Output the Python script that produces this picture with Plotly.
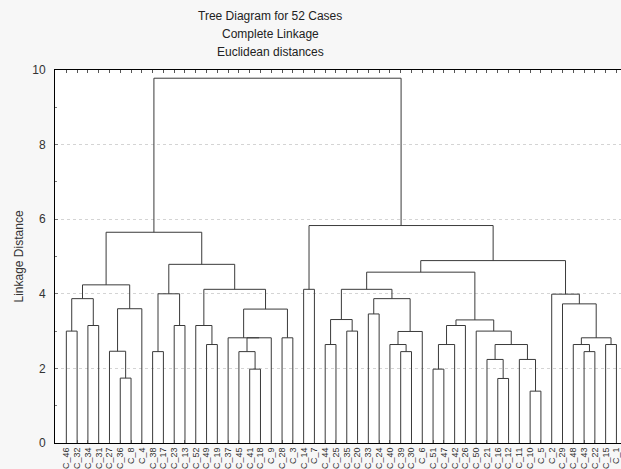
import plotly.graph_objects as go

# ---- data ----
leaf_labels = ["C_46", "C_32", "C_34", "C_31", "C_27", "C_36", "C_8", "C_4", "C_38", "C_17",
               "C_23", "C_13", "C_52", "C_49", "C_19", "C_37", "C_45", "C_41", "C_18", "C_9",
               "C_28", "C_3", "C_14", "C_7", "C_44", "C_25", "C_35", "C_20", "C_33", "C_24",
               "C_40", "C_39", "C_30", "C_6", "C_51", "C_47", "C_42", "C_26", "C_50", "C_21",
               "C_16", "C_12", "C_11", "C_10", "C_5", "C_2", "C_29", "C_48", "C_43", "C_22",
               "C_15", "C_1"]

# merges: node Nk (k = 1..51) joins merge_left[k-1] and merge_right[k-1] at merge_height[k-1]
merge_left = ["C_46", "C_34", "N1", "C_36", "C_27", "N5", "N3", "C_38", "C_23", "N8",
              "C_49", "C_52", "C_41", "C_45", "N14", "C_37", "C_28", "N16", "N12", "N10",
              "N7", "C_14", "C_44", "C_35", "N23", "C_33", "C_39", "C_40", "N28", "N26",
              "N25", "C_51", "N32", "N33", "C_16", "C_21", "C_10", "C_11", "N36", "C_50",
              "N34", "N31", "C_43", "C_48", "C_15", "N44", "C_29", "C_2", "N42", "N22", "N21"]
merge_right = ["C_32", "C_31", "N2", "C_8", "N4", "C_4", "N6", "C_17", "C_13", "N9",
               "C_19", "N11", "C_18", "N13", "C_9", "N15", "C_3", "N17", "N18", "N19",
               "N20", "C_7", "C_25", "C_20", "N24", "C_24", "C_30", "N27", "C_6", "N29",
               "N30", "C_47", "C_42", "C_26", "C_12", "N35", "C_5", "N37", "N38", "N39",
               "N40", "N41", "C_22", "N43", "C_1", "N45", "N46", "N47", "N48", "N49", "N50"]
merge_height = [3.00, 3.15, 3.87, 1.74, 2.46, 3.60, 4.24, 2.45, 3.15, 4.00,
                2.64, 3.15, 1.98, 2.45, 2.82, 2.82, 2.82, 3.59, 4.12, 4.79,
                5.65, 4.12, 2.64, 3.00, 3.31, 3.46, 2.45, 2.64, 2.99, 3.87,
                4.12, 1.98, 2.64, 3.15, 1.73, 2.24, 1.39, 2.24, 2.64, 3.00,
                3.30, 4.58, 2.45, 2.64, 2.64, 2.82, 3.73, 3.99, 4.89, 5.83, 9.78]

y_ticks = [0, 2, 4, 6, 8, 10]
title_lines = ["Tree Diagram for 52 Cases", "Complete Linkage", "Euclidean distances"]
y_title = "Linkage Distance"

# ---- build dendrogram segments ----
pos = {lab: i + 1 for i, lab in enumerate(leaf_labels)}
hgt = {lab: 0.0 for lab in leaf_labels}
xs, ys = [], []
for k, (a, b, h) in enumerate(zip(merge_left, merge_right, merge_height), start=1):
    xa, xb = pos[a], pos[b]
    xs += [xa, xa, xb, xb, None]
    ys += [hgt[a], h, h, hgt[b], None]
    name = f"N{k}"
    pos[name] = (xa + xb) / 2
    hgt[name] = h

fig = go.Figure()
fig.add_trace(go.Scatter(x=xs, y=ys, mode="lines",
                         line=dict(color="#3a3a3a", width=1),
                         hoverinfo="skip", showlegend=False))

W, H = 627, 469   # plot area runs past the 621px window edge, as in the reference
ml, mr, mt, mb = 55, 0, 70, 26
pw = W - ml - mr
ph = H - mt - mb

fig.update_layout(
    width=W, height=H,
    margin=dict(l=ml, r=mr, t=mt, b=mb, pad=0),
    paper_bgcolor="#f7f7f7",
    plot_bgcolor="#ffffff",
    font=dict(family="Liberation Sans, Arial, sans-serif", color="#222222"),
    showlegend=False,
)

fig.update_xaxes(
    range=[-0.05, 52.98],
    tickmode="array",
    tickvals=list(range(1, len(leaf_labels) + 1)),
    ticktext=leaf_labels,
    tickangle=-90,
    tickfont=dict(size=9, color="#333333"),
    ticks="inside", ticklen=3, tickcolor="#555555",
    showgrid=False, zeroline=False,
    showline=True, linecolor="#000000", linewidth=1,
    mirror="allticks",
    fixedrange=True,
)
fig.update_yaxes(
    range=[0, 10],
    tickmode="array",
    tickvals=y_ticks,
    ticktext=[str(v) for v in y_ticks],
    tickfont=dict(size=12, color="#333333"),
    ticks="inside", ticklen=3, tickcolor="#777777",
    minor=dict(dtick=1, ticks="inside", ticklen=2, tickcolor="#777777", showgrid=False),
    showgrid=True, gridcolor="#d4d4d4", griddash="dot", gridwidth=1,
    zeroline=False,
    showline=True, linecolor="#000000", linewidth=1,
    mirror=False,
    ticklabelstandoff=6,
    fixedrange=True,
)

title_y_px = [15.5, 33.5, 51.5]
title_x = (270 - ml) / pw
for txt, ypx in zip(title_lines, title_y_px):
    fig.add_annotation(text=txt, xref="paper", yref="paper",
                       x=title_x, y=1 + (mt - ypx) / ph,
                       xanchor="center", yanchor="middle", showarrow=False,
                       font=dict(size=12, color="#222222"))

fig.add_annotation(text=y_title, xref="paper", yref="paper",
                   x=(18 - ml) / pw, y=0.5, textangle=-90,
                   xanchor="center", yanchor="middle", showarrow=False,
                   font=dict(size=12, color="#333333"))

fig.write_html("out.html", config={"displayModeBar": False},
               post_script="document.body.style.margin='0';document.body.style.overflow='hidden';")
